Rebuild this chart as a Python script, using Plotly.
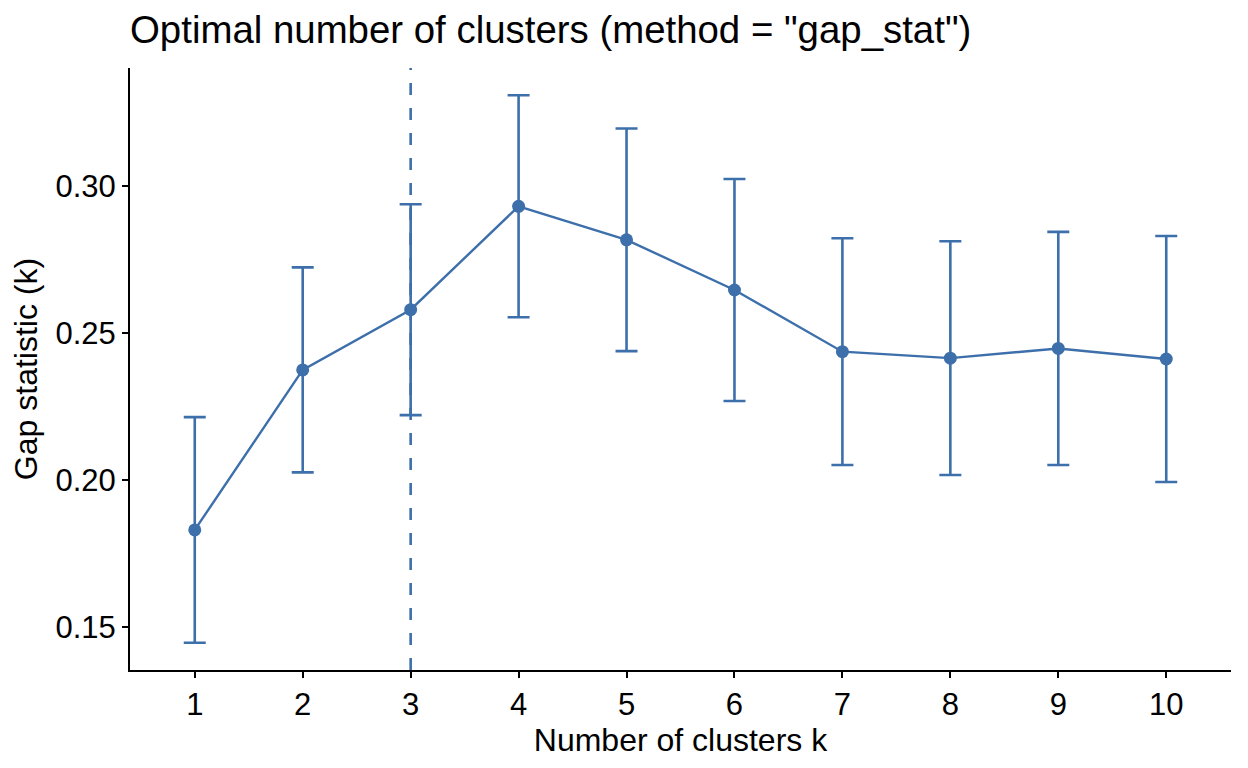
import plotly.graph_objects as go

k_values = [1, 2, 3, 4, 5, 6, 7, 8, 9, 10]
gap = [0.1830, 0.2375, 0.2580, 0.2932, 0.2818, 0.2647, 0.2437, 0.2415, 0.2448, 0.2412]
se = [0.0384, 0.0349, 0.0359, 0.0378, 0.0379, 0.0378, 0.0386, 0.0398, 0.0397, 0.0419]
optimal_k = 3
y_ticks = [0.15, 0.20, 0.25, 0.30]
y_tick_labels = ["0.15", "0.20", "0.25", "0.30"]

color = "#3D6FAB"
font_family = "Liberation Sans, Arial, sans-serif"

fig = go.Figure()

fig.add_trace(go.Scatter(
    x=k_values, y=gap, mode="lines+markers",
    line=dict(color=color, width=2.4),
    marker=dict(color=color, size=13),
    error_y=dict(type="data", array=se, visible=True, color=color, thickness=2.6, width=11),
    showlegend=False, hoverinfo="x+y",
))

fig.add_shape(type="line", xref="x", yref="paper", x0=optimal_k, x1=optimal_k, y0=0, y1=1,
              line=dict(color=color, width=2.6, dash="12px,13px"), layer="below")

fig.update_layout(
    width=1248, height=768,
    margin=dict(l=130, r=17, t=68, b=98),
    paper_bgcolor="white", plot_bgcolor="white",
    font=dict(family=font_family, color="black"),
    title=dict(text='Optimal number of clusters (method = "gap_stat")',
               x=0, xref="paper", xanchor="left",
               y=1 - 30 / 768, yref="container", yanchor="middle",
               font=dict(size=38.4, color="black")),
)

fig.update_xaxes(
    range=[0.4, 10.6], tickvals=k_values, ticktext=[str(k) for k in k_values],
    showline=True, linecolor="black", linewidth=2, showgrid=False, zeroline=False,
    ticks="outside", ticklen=6, tickwidth=2, tickcolor="black",
    tickfont=dict(size=31, color="black"),
    title=dict(text="Number of clusters k", font=dict(size=32, color="black"), standoff=2),
)
fig.update_yaxes(
    range=[0.1353, 0.3403], tickvals=y_ticks, ticktext=y_tick_labels,
    showline=True, linecolor="black", linewidth=2, showgrid=False, zeroline=False,
    ticks="outside", ticklen=6, tickwidth=2, tickcolor="black",
    tickfont=dict(size=31, color="black"),
    title=dict(text="Gap statistic (k)", font=dict(size=32, color="black"), standoff=8),
)

fig.write_html("out.html")
